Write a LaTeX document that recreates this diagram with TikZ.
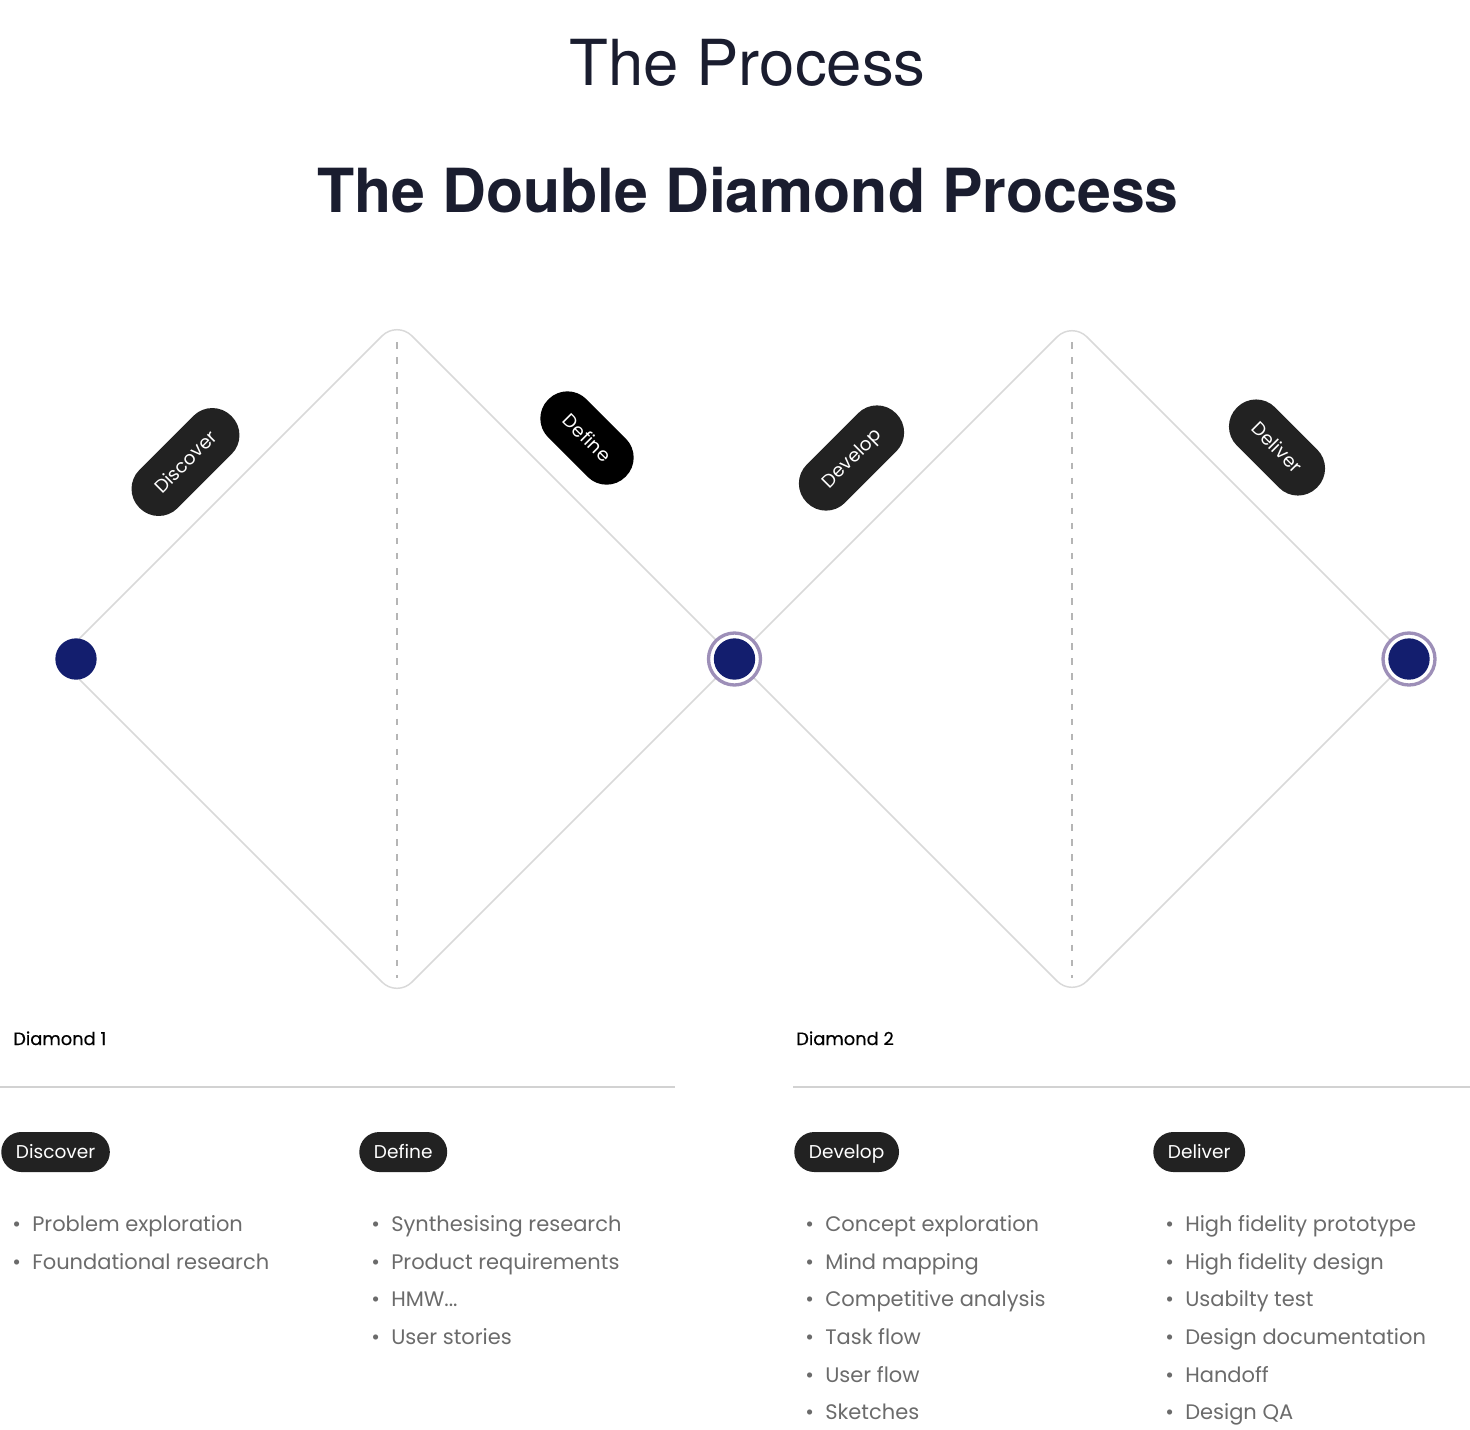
\documentclass[tikz,border=0pt]{standalone}
\usepackage{fontspec}
\setmainfont{Poppins}
\newfontfamily\headfont{TeX Gyre Heros}
\usetikzlibrary{positioning}
\usepackage{xcolor}

\definecolor{navy}{HTML}{131E6E}
\definecolor{ringpurple}{HTML}{9D8FB8}
\definecolor{headink}{HTML}{1A1D2F}
\definecolor{pill}{HTML}{222222}
\definecolor{edge}{HTML}{D9D9D9}
\definecolor{dashgray}{HTML}{B5B5B5}
\definecolor{itemgray}{HTML}{6B6B6B}
\definecolor{rulegray}{HTML}{D2D2D2}

\newcommand{\itm}{\makebox[15pt][l]{\textbullet}}

\tikzset{
    phase/.style={fill=pill, text=white, rounded corners=20pt, minimum height=40.5pt, inner xsep=19pt, inner ysep=0pt, text height=9.7pt, text depth=0pt, font=\fontsize{13.9}{16}\selectfont},
    tag/.style={fill=pill, text=white, rounded corners=15pt, minimum height=30pt, inner xsep=11pt, inner ysep=0pt, text height=9.7pt, text depth=0pt, anchor=west, font=\fontsize{13.9}{16}\selectfont},
    items/.style={text=itemgray, align=left, anchor=base west, inner sep=0pt, font=\fontsize{15.75}{28.2}\selectfont},
    caption/.style={anchor=base west, inner sep=0pt, font=\fontsize{13.4}{16}\selectfont\addfontfeature{FakeBold=0.4}},
    diamondline/.style={draw=edge, line width=1.1pt, rounded corners=15.75pt},
    midline/.style={draw=dashgray, line width=1.1pt, dash pattern=on 4.9pt off 6.4pt},
    dot/.style={circle, fill=navy, minimum size=31pt, inner sep=0pt},
    ring/.style={circle, draw=ringpurple, fill=white, line width=2.5pt, minimum size=39pt, inner sep=0pt}
}

\begin{document}
\begin{tikzpicture}[x=0.75pt, y=-0.75pt]
    \useasboundingbox (0,0) rectangle (1470,1429);

    % headings
    \node [anchor=base, text=headink, font=\headfont\fontsize{47.6}{50}\selectfont] (title) at (747.5,85) {The Process};
    \node [anchor=base, text=headink, font=\headfont\bfseries\fontsize{45.6}{50}\selectfont] (subtitle) at (748,212) {The Double Diamond Process};

    % diamond corners
    \coordinate (d1w) at (59,659);
    \coordinate (d1n) at (397,321);
    \coordinate (d1e) at (735,659);
    \coordinate (d1s) at (397,997);
    \coordinate (d2n) at (1072,322);
    \coordinate (d2e) at (1409,659);
    \coordinate (d2s) at (1072,996);

    \draw [diamondline] (d1w) -- (d1n) -- (d1e) -- (d1s) -- cycle;
    \draw [diamondline] (d1e) -- (d2n) -- (d2e) -- (d2s) -- cycle;

    \coordinate (m1top) at (397,342);
    \coordinate (m1bot) at (397,978);
    \coordinate (m2top) at (1072,342);
    \coordinate (m2bot) at (1072,978);
    \draw [midline] (m1top) -- (m1bot);
    \draw [midline] (m2top) -- (m2bot);

    % dots
    \node [dot] (start) at (76,659) {};
    \node [ring] (midring) at (734.5,659) {};
    \node [dot] (mid) at (midring) {};
    \node [ring] (endring) at (1409,659) {};
    \node [dot] (finish) at (endring) {};

    % phase pills
    \node [phase, rotate=45] (discoverPhase) at (185.5,462) {Discover};
    \node [phase, rotate=-45, fill=black] (definePhase) at (587,438) {Define};
    \node [phase, rotate=45] (developPhase) at (851.5,458) {Develop};
    \node [phase, rotate=-45] (deliverPhase) at (1277,447.5) {Deliver};

    % columns
    \node [caption] (diamondOne) at (13,1045) {Diamond 1};
    \node [caption] (diamondTwo) at (796,1045) {Diamond 2};
    \draw [rulegray, line width=1.5pt] (0,1087) -- (675,1087);
    \draw [rulegray, line width=1.5pt] (793,1087) -- (1470,1087);

    \node [tag] (discoverTag) at (1,1152) {Discover};
    \node [tag] (defineTag) at (359,1152) {Define};
    \node [tag] (developTag) at (794,1152) {Develop};
    \node [tag] (deliverTag) at (1153,1152) {Deliver};

    % lists (base = last line)
    \node [items] (discoverList) at (12,1269.3) {\itm Problem exploration\\ \itm Foundational research};
    \node [items] (defineList) at (371,1344.5) {\itm Synthesising research\\ \itm Product requirements\\ \itm HMW...\\ \itm User stories};
    \node [items] (developList) at (805,1419.7) {\itm Concept exploration\\ \itm Mind mapping\\ \itm Competitive analysis\\ \itm Task flow\\ \itm User flow\\ \itm Sketches};
    \node [items] (deliverList) at (1165,1419.7) {\itm High fidelity prototype\\ \itm High fidelity design\\ \itm Usabilty test\\ \itm Design documentation\\ \itm Handoff\\ \itm Design QA};
\end{tikzpicture}
\end{document}
